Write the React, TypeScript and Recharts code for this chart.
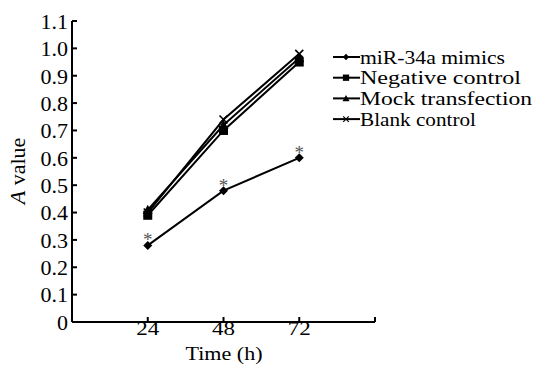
import { LineChart, Line, XAxis, YAxis, LabelList, Label } from 'recharts'

// Proliferation (A value) over time for the four groups
const hours = [24, 48, 72]
const mimics = [0.28, 0.48, 0.60]
const negative = [0.39, 0.70, 0.95]
const mock = [0.41, 0.72, 0.965]
const blank = [0.40, 0.74, 0.98]
const yTicks = [0, 0.1, 0.2, 0.3, 0.4, 0.5, 0.6, 0.7, 0.8, 0.9, 1.0, 1.1]
const xTicks = [24, 48, 72, 96]

const series = [
  { key: 'mimics', name: 'miR-34a mimics', shape: 'diamond', w: 145 },
  { key: 'negative', name: 'Negative control', shape: 'square', w: 161 },
  { key: 'mock', name: 'Mock transfection', shape: 'triangle', w: 172 },
  { key: 'blank', name: 'Blank control', shape: 'cross', w: 116 },
]

const data = hours.map((h, i) => ({
  h,
  mimics: mimics[i],
  negative: negative[i],
  mock: mock[i],
  blank: blank[i],
}))

const FONT = 'Liberation Serif, serif'
const txt = { fontFamily: FONT }

function Marker({ cx, cy, shape }: { cx: number; cy: number; shape: string }) {
  if (cx == null || cy == null) return null
  if (shape === 'diamond')
    return <polygon points={`${cx},${cy - 4.5} ${cx + 4.5},${cy} ${cx},${cy + 4.5} ${cx - 4.5},${cy}`} fill="#000" />
  if (shape === 'square')
    return <rect x={cx - 4.5} y={cy - 4.5} width={9} height={9} fill="#000" />
  if (shape === 'triangle')
    return <polygon points={`${cx},${cy - 5} ${cx + 5},${cy + 4} ${cx - 5},${cy + 4}`} fill="#000" />
  return (
    <g stroke="#000" strokeWidth={1.6}>
      <line x1={cx - 4} y1={cy - 4} x2={cx + 4} y2={cy + 4} />
      <line x1={cx - 4} y1={cy + 4} x2={cx + 4} y2={cy - 4} />
    </g>
  )
}

function XTick({ x, y, payload }: any) {
  if (payload.value === 96) return null
  const label = String(payload.value)
  return (
    <text x={x} y={y + 18} textAnchor="middle" fontSize={19} textLength={23} lengthAdjust="spacingAndGlyphs"
      style={txt} fill="#000">{label}</text>
  )
}

function LegendBox() {
  return (
    <svg width={210} height={110} style={{ display: 'block' }}>
      {series.map((s, i) => {
        const y = 20 + i * 20.7
        return (
          <g key={s.key}>
            <line x1={2} x2={29} y1={y} y2={y} stroke="#000" strokeWidth={2} />
            <g transform={`translate(15,${y}) scale(0.7) translate(-15,${-y})`}>
              <Marker cx={15} cy={y} shape={s.shape} />
            </g>
            <text x={29} y={y + 6.5} fontSize={18} textLength={s.w} lengthAdjust="spacingAndGlyphs"
              style={txt} fill="#000">{s.name}</text>
          </g>
        )
      })}
    </svg>
  )
}

export default function App() {
  return (
    <div style={{ position: 'absolute', left: 0, top: 0, width: 539, height: 365, background: '#fff', fontFamily: FONT }}>
      <LineChart width={539} height={365} data={data} margin={{ top: 21, right: 164, left: 0, bottom: 0 }}>
        <XAxis dataKey="h" type="number" domain={[0, 96]} ticks={xTicks} height={43}
          stroke="#000" strokeWidth={2} tickSize={-5} tickMargin={0} tick={<XTick />}>
          <Label content={() => (
            <text x={224} y={360} textAnchor="middle" fontSize={18} textLength={77} lengthAdjust="spacingAndGlyphs"
              style={txt} fill="#000">Time (h)</text>
          )} />
        </XAxis>
        <YAxis type="number" domain={[0, 1.1]} ticks={yTicks} width={72} interval={0}
          stroke="#000" strokeWidth={2} tickSize={-5} tickMargin={9}
          tickFormatter={(v: number) => (v === 0 ? '0' : v.toFixed(1))}
          tick={{ fill: '#000', fontSize: 22, style: txt }}>
          <Label content={() => (
            <text x={25} y={171} transform="rotate(-90 25 171)" textAnchor="middle" fontSize={22} style={txt} fill="#000">
              <tspan fontStyle="italic">A</tspan> value
            </text>
          )} />
        </YAxis>
        {series.map((s) => (
          <Line key={s.key} dataKey={s.key} name={s.name} type="linear" stroke="#000" strokeWidth={2}
            isAnimationActive={false}
            dot={(p: any) => <Marker key={`${s.key}-${p.index}`} cx={p.cx} cy={p.cy} shape={s.shape} />}
            activeDot={false}>
            {s.key === 'mimics' && (
              <LabelList dataKey="mimics" content={(p: any) => (
                <text x={p.x} y={p.y + 1} textAnchor="middle" fontSize={19} style={txt} fill="#555">*</text>
              )} />
            )}
          </Line>
        ))}
      </LineChart>
      <div style={{ position: 'absolute', left: 331, top: 37 }}>
        <LegendBox />
      </div>
    </div>
  )
}
